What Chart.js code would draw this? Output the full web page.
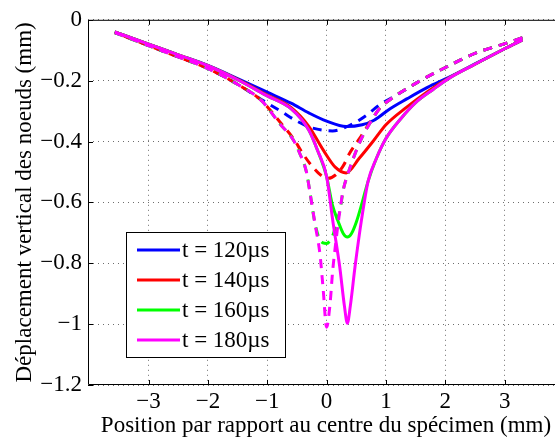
<!DOCTYPE html>
<html><head><meta charset="utf-8">
<script src="https://cdn.jsdelivr.net/npm/chart.js@4.4.0/dist/chart.umd.min.js"></script>
<style>
html,body{margin:0;padding:0;overflow:hidden;background:#fff;width:555px;height:442px}
#wrap{position:absolute;left:0;top:0;width:564px;height:442px}
canvas{display:block}
</style></head>
<body><div id="wrap"><canvas id="c" width="564" height="442"></canvas></div>
<script>
// ---- data ----
const seriesLabels = ['t = 120µs', 't = 140µs', 't = 160µs', 't = 180µs'];
const seriesColors = ['#0000ff', '#ff0000', '#00ff00', '#ff00ff'];

// solid curves
const s120x = [-3.57,-3,-2.5,-2,-1.5,-1,-0.6,-0.3,0,0.33,0.6,0.8,1.07,1.35,1.7,2.05,2.5,3,3.3];
const s120y = [-0.04,-0.08,-0.115,-0.15,-0.193,-0.238,-0.274,-0.306,-0.333,-0.351,-0.345,-0.33,-0.292,-0.26,-0.222,-0.19,-0.145,-0.095,-0.066];

const s140x = [-3.57,-3,-2.5,-2,-1.5,-1,-0.6,-0.3,-0.05,0.15,0.33,0.55,0.8,1.0,1.35,1.7,2.05,2.5,3,3.3];
const s140y = [-0.04,-0.08,-0.115,-0.151,-0.196,-0.247,-0.288,-0.35,-0.43,-0.485,-0.503,-0.455,-0.395,-0.345,-0.287,-0.236,-0.192,-0.146,-0.095,-0.066];

const s160x = [-3.57,-3,-2.5,-2,-1.5,-1,-0.6,-0.3,-0.15,0,0.1,0.2,0.28,0.35,0.42,0.5,0.6,0.7,0.84,1.0,1.25,1.5,1.8,2.08,2.5,3,3.3];
const s160y = [-0.04,-0.08,-0.115,-0.151,-0.197,-0.25,-0.292,-0.362,-0.43,-0.515,-0.61,-0.665,-0.702,-0.714,-0.702,-0.665,-0.6,-0.53,-0.455,-0.39,-0.325,-0.272,-0.228,-0.19,-0.146,-0.095,-0.066];

const s180x = [-3.57,-3,-2.5,-2,-1.5,-1,-0.6,-0.3,-0.15,0,0.11,0.22,0.3,0.35,0.4,0.48,0.59,0.7,0.84,1.0,1.25,1.5,1.8,2.08,2.5,3,3.3];
const s180y = [-0.04,-0.08,-0.115,-0.151,-0.197,-0.25,-0.292,-0.362,-0.43,-0.515,-0.668,-0.81,-0.94,-0.997,-0.94,-0.81,-0.655,-0.53,-0.455,-0.39,-0.325,-0.272,-0.228,-0.19,-0.146,-0.095,-0.066];

// dashed curves
const d120x = [-3.57,-3,-2.5,-2,-1.5,-1.1,-0.75,-0.5,-0.25,0.1,0.4,0.67,0.9,1.12,1.58,2.02,2.53,2.98,3.3];
const d120y = [-0.042,-0.085,-0.122,-0.16,-0.212,-0.262,-0.303,-0.333,-0.355,-0.365,-0.346,-0.314,-0.278,-0.254,-0.2,-0.155,-0.108,-0.08,-0.059];

const d140x = [-3.57,-3,-2.5,-2,-1.5,-1.1,-0.79,-0.56,-0.4,-0.25,-0.1,0.03,0.15,0.28,0.39,0.56,0.72,0.9,1.1,1.58,2.02,2.53,2.98,3.3];
const d140y = [-0.042,-0.085,-0.122,-0.16,-0.212,-0.265,-0.335,-0.39,-0.44,-0.48,-0.51,-0.521,-0.51,-0.48,-0.438,-0.389,-0.34,-0.29,-0.258,-0.2,-0.155,-0.108,-0.08,-0.059];

const d160x = [-3.57,-3,-2.5,-2,-1.5,-1.1,-0.79,-0.56,-0.45,-0.34,-0.27,-0.2,-0.13,-0.06,0,0.06,0.12,0.17,0.22,0.28,0.37,0.5,0.6,0.73,0.9,1.1,1.58,2.02,2.53,2.98,3.3];
const d160y = [-0.042,-0.085,-0.122,-0.16,-0.212,-0.265,-0.341,-0.395,-0.44,-0.5,-0.58,-0.665,-0.715,-0.733,-0.735,-0.725,-0.7,-0.66,-0.632,-0.56,-0.5,-0.43,-0.385,-0.34,-0.29,-0.258,-0.2,-0.155,-0.108,-0.08,-0.059];

const d180x = [-3.57,-3,-2.5,-2,-1.5,-1.1,-0.79,-0.56,-0.45,-0.34,-0.27,-0.2,-0.11,-0.06,0,0.06,0.1,0.15,0.22,0.28,0.37,0.5,0.6,0.73,0.9,1.1,1.58,2.02,2.53,2.98,3.3];
const d180y = [-0.042,-0.085,-0.122,-0.16,-0.212,-0.265,-0.341,-0.395,-0.44,-0.5,-0.58,-0.665,-0.773,-0.88,-1.01,-0.93,-0.83,-0.74,-0.632,-0.56,-0.5,-0.43,-0.385,-0.34,-0.29,-0.258,-0.2,-0.155,-0.108,-0.08,-0.059];

const xTicks = [-3,-2,-1,0,1,2,3];
const xTickLabels = ['\u22123','\u22122','\u22121','0','1','2','3'];
const yTicks = [0,-0.2,-0.4,-0.6,-0.8,-1,-1.2];
const yTickLabels = ['0','\u22120.2','\u22120.4','\u22120.6','\u22120.8','\u22121','\u22121.2'];
const xTitle = 'Position par rapport au centre du spécimen (mm)';
const yTitle = 'Déplacement vertical des noeuds (mm)';

// ---- build ----
const FONT = "'Liberation Serif', 'Times New Roman', serif";
Chart.defaults.font.family = FONT;
Chart.defaults.color = '#000';

const pts = (xs, ys) => xs.map((x, i) => ({x: x, y: ys[i]}));
const curves = [
  [s120x, s120y, 0, false], [d120x, d120y, 0, true],
  [s140x, s140y, 1, false], [d140x, d140y, 1, true],
  [s160x, s160y, 2, false], [d160x, d160y, 2, true],
  [s180x, s180y, 3, false], [d180x, d180y, 3, true]
];
const LW = 3;
const datasets = curves.map((c, i) => {
  let p = pts(c[0], c[1]);
  if (c[3]) p = p.slice().reverse(); // dashed drawn from the right end
  return {
    label: seriesLabels[c[2]] + (c[3] ? ' (dashed)' : ''),
    data: p,
    borderColor: seriesColors[c[2]],
    backgroundColor: seriesColors[c[2]],
    borderWidth: LW,
    borderDash: c[3] ? [9, 7] : [],
    pointRadius: 0,
    fill: false,
    cubicInterpolationMode: 'monotone',
    borderJoinStyle: 'round',
    order: curves.length - i
  };
});

const framePlugin = {
  id: 'frame',
  afterDraw(chart) {
    const ctx = chart.ctx, a = chart.chartArea, xs = chart.scales.x, ys = chart.scales.y;
    ctx.save();
    ctx.strokeStyle = '#000';
    ctx.lineWidth = 1;
    ctx.setLineDash([]);
    ctx.beginPath();
    ctx.rect(a.left + 0.5, a.top + 0.5, a.right - a.left - 1, a.bottom - a.top - 1);
    xTicks.forEach(v => {
      const p = Math.round(xs.getPixelForValue(v)) + 0.5;
      ctx.moveTo(p, a.bottom); ctx.lineTo(p, a.bottom - 5);
      ctx.moveTo(p, a.top); ctx.lineTo(p, a.top + 5);
    });
    yTicks.forEach(v => {
      const p = Math.round(ys.getPixelForValue(v)) + 0.5;
      ctx.moveTo(a.left, p); ctx.lineTo(a.left + 5, p);
      ctx.moveTo(a.right, p); ctx.lineTo(a.right - 5, p);
    });
    ctx.stroke();

    // legend box
    const L = 126.5, T = 232.5, W = 159, H = 125;
    ctx.fillStyle = '#fff';
    ctx.fillRect(L, T, W, H);
    ctx.strokeStyle = '#000';
    ctx.lineWidth = 1;
    ctx.strokeRect(L, T, W, H);
    ctx.font = "23px " + FONT;
    ctx.textBaseline = 'middle';
    ctx.textAlign = 'left';
    seriesLabels.forEach((lab, i) => {
      const yy = 250 + 30 * i;
      ctx.strokeStyle = seriesColors[i];
      ctx.lineWidth = LW;
      ctx.beginPath();
      ctx.moveTo(137, yy); ctx.lineTo(180, yy);
      ctx.stroke();
      ctx.fillStyle = '#000';
      ctx.fillText(lab, 182, yy + 1);
    });
    ctx.restore();
  }
};

new Chart(document.getElementById('c'), {
  type: 'line',
  data: { datasets: datasets },
  plugins: [framePlugin],
  options: {
    responsive: false,
    animation: false,
    devicePixelRatio: 1,
    layout: { padding: { top: 15, right: 0, bottom: 0, left: 0 } },
    plugins: { legend: { display: false }, tooltip: { enabled: false } },
    scales: {
      x: {
        type: 'linear', min: -4.02, max: 4,
        afterBuildTicks: s => { s.ticks = xTicks.map(v => ({value: v})); },
        afterFit: s => { s.height = 57; },
        ticks: { callback: (v, i) => xTickLabels[i], font: { size: 23 }, color: '#000', padding: 3, maxRotation: 0, autoSkip: false },
        grid: { color: '#6e6e6e', lineWidth: 1, drawTicks: false },
        border: { display: false, dash: [1, 4] },
        title: { display: true, text: xTitle, font: { size: 23 }, color: '#000', padding: { top: 0, bottom: 2 } }
      },
      y: {
        type: 'linear', min: -1.2, max: 0,
        afterBuildTicks: s => { s.ticks = yTicks.map(v => ({value: v})); },
        afterFit: s => { s.width = 88; },
        ticks: { callback: (v, i) => yTickLabels[i], font: { size: 23 }, color: '#000', padding: 6, autoSkip: false },
        grid: { color: '#6e6e6e', lineWidth: 1, drawTicks: false },
        border: { display: false, dash: [1, 4] },
        title: { display: true, text: yTitle, font: { size: 23 }, color: '#000', padding: { top: 11, bottom: 0 } }
      }
    }
  }
});
</script></body></html>
